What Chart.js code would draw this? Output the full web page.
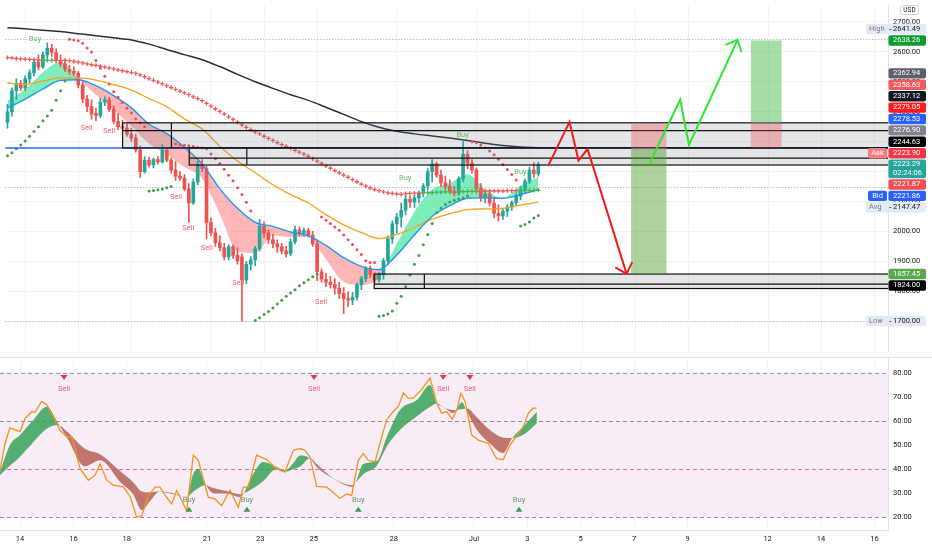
<!DOCTYPE html>
<html>
<head>
<meta charset="utf-8">
<script src="https://cdn.jsdelivr.net/npm/chart.js@4.4.1/dist/chart.umd.min.js"></script>
<style>
  html, body { margin: 0; padding: 0; background: #fff; overflow: hidden; }
  #wrap { position: relative; width: 932px; height: 550px; }
  canvas { position: absolute; left: 0; }
  #price { top: 0; }
  #osc { top: 357px; }
</style>
</head>
<body>
<div id="wrap">
  <canvas id="price" width="932" height="357"></canvas>
  <canvas id="osc" width="932" height="193"></canvas>
</div>
<script>
// x axis is measured in days of June (Jul 1 = 31)
const tickDays = [14, 16, 18, 21, 23, 25, 28, 31, 33, 35, 37, 39, 42, 44, 46];
const tickLabels = ['14', '16', '18', '21', '23', '25', '28', 'Jul', '3', '5', '7', '9', '12', '14', '16'];
const priceTicks = [1700, 1800, 1900, 2000, 2100, 2200, 2300, 2400, 2500, 2600, 2700];
const oscTicks = [20, 30, 40, 50, 60, 70, 80];

// 4h candles, first one Jun 13 08:00
const firstBarDay = 13 + 8 / 24;
const barSpan = 4 / 24;

const opens = [2365,2400,2470,2495,2480,2510,2530,2565,2550,2590,
  2612,2598,2572,2560,2542,2535,2528,2490,2442,2418,
  2395,2388,2432,2440,2408,2368,2350,2345,2325,2312,
  2272,2200,2238,2222,2240,2232,2272,2238,2205,2185,
  2178,2142,2095,2165,2222,2210,2030,1995,1962,1945,
  1915,1948,1920,1915,1838,1890,1905,1942,2018,1995,
  1972,1958,1948,1935,1925,1965,2005,1995,2003,1988,
  1958,1865,1840,1830,1822,1810,1792,1775,1770,1780,
  1822,1842,1875,1855,1838,1856,1902,1975,2025,2048,
  2070,2108,2098,2112,2128,2152,2200,2226,2188,2162,
  2150,2135,2128,2175,2258,2228,2205,2142,2112,2125,
  2095,2060,2052,2068,2082,2096,2118,2140,2168,2205,
  2192];
const highs = [2425,2480,2510,2505,2520,2540,2575,2590,2600,2630,
  2625,2610,2590,2575,2555,2550,2535,2500,2455,2440,
  2412,2445,2450,2448,2420,2395,2372,2360,2345,2325,
  2285,2250,2248,2245,2250,2290,2280,2245,2235,2200,
  2190,2160,2175,2235,2240,2218,2045,2010,1985,1960,
  1955,1955,1945,1925,1900,1915,1950,2040,2032,2005,
  1990,1972,1960,1950,1975,2018,2015,2012,2010,2000,
  1968,1875,1860,1850,1842,1830,1812,1798,1796,1828,
  1850,1882,1885,1862,1862,1910,1985,2035,2060,2095,
  2120,2118,2122,2135,2160,2210,2240,2232,2205,2185,
  2172,2150,2182,2300,2270,2240,2212,2160,2138,2135,
  2112,2090,2075,2090,2102,2125,2150,2175,2215,2230,
  2232];
const lows = [2345,2385,2440,2470,2470,2495,2520,2540,2545,2575,
  2585,2565,2550,2535,2525,2520,2480,2430,2400,2375,
  2370,2380,2420,2400,2360,2340,2335,2318,2300,2265,
  2180,2195,2215,2212,2225,2228,2232,2195,2170,2170,
  2135,2030,2090,2155,2200,1975,1985,1950,1935,1905,
  1905,1910,1890,1700,1825,1870,1885,1935,1980,1960,
  1945,1930,1925,1915,1918,1958,1985,1985,1982,1950,
  1835,1830,1815,1810,1790,1775,1725,1748,1755,1770,
  1805,1832,1845,1828,1830,1840,1895,1960,1995,2015,
  2055,2080,2080,2095,2115,2140,2165,2180,2150,2140,
  2125,2118,2120,2165,2210,2195,2130,2100,2095,2085,
  2045,2035,2040,2050,2070,2088,2105,2130,2160,2180,
  2185];
const closes = [2400,2470,2495,2480,2510,2530,2565,2550,2590,2612,
  2598,2572,2560,2542,2535,2528,2490,2442,2418,2392,
  2388,2432,2440,2408,2368,2350,2345,2325,2312,2272,
  2200,2238,2222,2240,2232,2272,2238,2205,2185,2178,
  2142,2095,2165,2222,2210,2030,1995,1962,1945,1915,
  1948,1920,1902,1838,1890,1905,1942,2018,1995,1972,
  1958,1948,1935,1925,1965,2005,1995,2003,1988,1958,
  1865,1840,1830,1822,1810,1792,1775,1770,1780,1822,
  1842,1875,1855,1838,1856,1902,1975,2025,2048,2070,
  2108,2098,2112,2128,2152,2200,2226,2188,2162,2150,
  2135,2128,2175,2258,2228,2205,2142,2112,2125,2095,
  2060,2052,2068,2082,2096,2118,2140,2168,2205,2192,
  2223.29];

// parabolic SAR dots, one per candle
const sar = [2253,2263,2276,2289,2302,2318,2334,2350,2370,2386,
  2405,2438,2470,2503,2642,2640,2637,2629,2613,2600,
  2571,2545,2519,2493,2467,2448,2431,2412,2396,2376,
  2363,2350,2135,2137,2139,2142,2146,2150,2292,2290,
  2288,2286,2284,2281,2279,2276,2259,2243,2227,2208,
  2188,2169,2146,2123,2097,2068,1702,1711,1722,1732,
  1744,1757,1770,1783,1794,1805,1818,1828,1838,1848,
  1857,2048,2037,2026,2015,2004,1988,1972,1956,1939,
  1923,1902,1896,1896,1716,1719,1724,1734,1760,1783,
  1815,1854,1890,1919,1955,1990,2026,2062,2078,2090,
  2098,2104,2108,2112,2118,2300,2296,2289,2280,2269,
  2256,2241,2224,2207,2190,2172,2018,2023,2031,2045,
  2053];

// cross-marked trend line, one per candle
const crossLine = [2581,2580,2578,2577,2576,2575,2574,2573,2572,2572,
  2572,2572,2572,2572,2571,2568,2566,2563,2560,2557,
  2555,2552,2549,2546,2543,2540,2537,2534,2531,2528,
  2523,2517,2511,2505,2499,2493,2487,2481,2475,2469,
  2463,2457,2450,2444,2437,2428,2419,2410,2401,2392,
  2383,2374,2365,2356,2348,2340,2333,2326,2318,2311,
  2304,2297,2290,2284,2278,2271,2265,2258,2251,2243,
  2235,2227,2219,2211,2203,2196,2188,2181,2173,2166,
  2158,2151,2145,2140,2136,2132,2129,2127,2125,2124,
  2126,2127,2128,2128,2129,2130,2130,2131,2131,2132,
  2132,2132,2133,2133,2134,2134,2134,2135,2135,2135,
  2135,2135,2135,2136,2136,2136,2136,2137,2137,2137,
  2138];

// moving averages sampled every 16 hours
const maDays = [13.33, 14, 14.67, 15.33, 16, 16.67, 17.33, 18, 18.67, 19.33, 20, 20.67, 21.33, 22, 22.67,
  23.33, 24, 24.67, 25.33, 26, 26.67, 27.33, 28, 28.67, 29.33, 30, 30.67, 31.33, 32, 32.67, 33.33];
const ema200 = [2681, 2677, 2672, 2668, 2661, 2654, 2647, 2640, 2626, 2608, 2591, 2574, 2551, 2525, 2500,
  2478, 2457, 2438, 2415, 2391, 2367, 2348, 2335, 2326, 2319, 2312, 2304, 2295, 2287, 2282, 2280];
const ema50 = [2496, 2491, 2503, 2513, 2513, 2506, 2491, 2472, 2444, 2417, 2376, 2342, 2285, 2235, 2196,
  2156, 2123, 2095, 2056, 2022, 1996, 1976, 1990, 2013, 2041, 2059, 2073, 2075, 2077, 2088, 2098];
const ema20 = [2412, 2442, 2476, 2505, 2507, 2487, 2454, 2413, 2358, 2327, 2281, 2225, 2143, 2077, 2030,
  2017, 1998, 1986, 1953, 1912, 1883, 1872, 1921, 1989, 2050, 2086, 2111, 2112, 2111, 2123, 2139];
const ribbonFast = [2436, 2475, 2532, 2566, 2512, 2456, 2407, 2352, 2293, 2258, 2215, 2176, 2059, 1934, 1928,
  1986, 1980, 1980, 1907, 1832, 1821, 1847, 1959, 2066, 2139, 2161, 2190, 2141, 2111, 2153, 2182];

// oscillator
const oscDays = [13.25, 13.44, 13.62, 14.0, 14.19, 14.45, 14.56, 14.81, 15.0, 15.31, 15.5, 15.75, 15.94,
  16.25, 16.56, 16.81, 17.0, 17.25, 17.49, 17.87, 18.12, 18.37, 18.56, 18.81, 19.06, 19.24, 19.49, 19.68,
  19.87, 20.12, 20.24, 20.49, 20.68, 21.05, 21.3, 21.55, 21.87, 21.99, 22.18, 22.36, 22.55, 22.86, 23.24,
  23.61, 23.92, 24.24, 24.49, 24.67, 24.86, 25.11, 25.49, 25.98, 26.24, 26.42, 26.67, 26.86, 27.04, 27.3,
  27.48, 27.73, 27.98, 28.17, 28.36, 28.54, 28.73, 29.04, 29.36, 29.61, 29.79, 29.98, 30.19, 30.36, 30.51,
  30.67, 30.92, 31.17, 31.35, 31.54, 31.85, 32.1, 32.35, 32.6, 32.85, 33.04, 33.22, 33.35];
const oscLine = [39.3, 50.5, 57, 55.4, 61, 63.8, 63.4, 68, 66.6, 60.3, 56, 53.3, 53.3,
  40, 35.2, 37.3, 42, 35.2, 33.1, 32.4, 28.5, 19.8, 20.4, 28.8, 32.3, 32.3, 28.1, 25.3,
  31, 25.3, 22.5, 45.6, 43.5, 28.1, 27.4, 24.6, 31, 28.1, 23.9, 32.3, 32.3, 45.6, 43.8,
  40, 38.6, 47.7, 48.4, 47.7, 44.9, 32.6, 32.3, 27.7, 29.5, 28.8, 43.5, 46.3, 43.5, 42.8,
  50.5, 60.3, 63.8, 65.9, 71.5, 69.4, 69.4, 72.9, 77.8, 67.3, 63.1, 63.8, 60.6, 64.5, 71.5,
  68, 54, 51.9, 51.2, 50.5, 44.2, 43.8, 49.8, 53.6, 57.5, 63.1, 65.2, 65.2];
const bandDays = [13.25, 13.62, 14.0, 14.45, 15.01, 15.42, 15.76, 16.43, 17.0, 17.75, 18.23, 18.57, 18.87,
  19.24, 19.73, 20.25, 20.48, 20.67, 20.93, 21.27, 21.75, 22.24, 22.73, 23.1, 23.62, 23.92, 24.22, 24.49,
  24.86, 25.12, 25.72, 26.47, 26.62, 26.85, 27.37, 27.75, 28.23, 28.87, 29.36, 29.62, 29.84, 30.22, 30.55,
  30.74, 31.12, 31.6, 32.09, 32.43, 32.84, 33.36];
const bandFast = [38.7, 49.8, 54, 59.6, 65.8, 59, 53, 41, 43.5, 34.5, 29.5, 22.7, 26.5,
  30.5, 29.3, 28.4, 37.6, 40, 33.8, 29.7, 29.7, 28.2, 37.8, 42.8, 40.7, 39.2, 42.1, 45.5,
  44.3, 40.6, 36, 32.4, 35.5, 41.9, 43.2, 53.6, 64.4, 68.7, 74.9, 67.1, 65.9, 63.2, 67.7,
  63.7, 56, 50.5, 46.5, 52.7, 57.4, 63.7];
const bandSlow = [37.3, 41.2, 45, 50.4, 56.7, 58.2, 55.5, 48.3, 46, 39, 34.5, 30.5, 30.2,
  30.6, 29.8, 28.3, 30.3, 31.8, 33.1, 31.8, 30.7, 29.4, 31.8, 34.7, 40, 38.7, 39.8, 40.8,
  44.3, 41.8, 36.1, 33.1, 34.8, 37.6, 41.3, 49.4, 56.1, 61.8, 65.8, 67.2, 65.8, 64.4, 64.8,
  65.1, 61.3, 56.1, 53, 52.8, 54, 58.9];
const oscLevels = [80, 60, 40, 20];
const oscSellDays = [15.65, 25.01, 29.85, 30.85];
const oscBuyDays = [20.33, 22.5, 26.67, 32.69];

// signal labels on the price pane
const buySignalDays = [14.37, 28.32, 30.48, 32.66];
const buySignalPrices = [2642, 2177, 2323, 2199];
const sellSignalDays = [16.31, 17.16, 19.68, 20.15, 20.84, 22.03, 25.15];
const sellSignalPrices = [2345, 2334, 2113, 2010, 1945, 1826, 1763];

// drawings
const zoneStart = [17.67, 20.18, 27.15];
const zoneSplit = [19.51, 22.35, 29.04];
const zoneTop = [2362.94, 2279.05, 1857.45];
const zoneBottom = [2279.05, 2221.87, 1809];
const zoneMid = [2337.12, 2244.63, 1824.00];
const blueLevel = 2278.53;
const redLevel = 2221.87;
const shortSpan = [36.83, 38.16];
const shortLevels = [2276.90, 2358.63, 1857.45]; // entry, stop, target
const longSpan = [41.34, 42.5];
const longLevels = [2362.94, 2279.05, 2638.26];
const redPathDays = [33.70, 34.51, 34.85, 35.19, 36.66];
const redPathPrices = [2218, 2366, 2237, 2275, 1858];
const greenPathDays = [37.53, 38.68, 39.01, 40.84];
const greenPathPrices = [2228, 2440, 2289, 2640];

const lastPrice = 2223.29, lastCountdown = '02:24:06';
const askPrice = 2223.90, bidPrice = 2221.86;
const highPrice = 2641.49, lowPrice = 1700.00, avgPrice = 2147.47;

const xMin = 13.2509, xMax = 46.5093;
const upColor = '#26a69a', downColor = '#ef5350';
const FONT = 'Roboto, "Noto Sans", sans-serif';
Chart.defaults.font.family = FONT;
Chart.defaults.font.size = 7.5;

const candleDays = closes.map((_, k) => firstBarDay + k * barSpan);
const pts = (xs, ys) => xs.map((x, i) => ({ x: x, y: ys[i] }));
const candleColors = closes.map((c, k) => c >= opens[k] ? upColor : downColor);
const sarColors = sar.map((v, k) => v > closes[k] ? '#f0505a' : '#43a047');
const crossColors = crossLine.map((v, k) => closes[k] > v ? '#4caf50' : '#f05a5a');

function xScale(showLabels) {
  return {
    type: 'linear', min: xMin, max: xMax, offset: false,
    afterBuildTicks: s => { s.ticks = tickDays.map(v => ({ value: v })); },
    afterFit: s => {
      s.paddingLeft = 0; s.paddingRight = 0;
      s.height = showLabels ? 20 : 0;
    },
    grid: { color: '#f0f3fa', drawTicks: false, offset: false },
    border: { display: showLabels, color: '#e0e3eb' },
    ticks: {
      display: showLabels, color: '#131722', padding: 5, maxRotation: 0, autoSkip: false,
      callback: (v, i) => tickLabels[i]
    }
  };
}

function yScale(min, max, ticks, digits) {
  return {
    position: 'right', min: min, max: max,
    afterBuildTicks: s => { s.ticks = ticks.map(v => ({ value: v })); },
    afterFit: s => { s.width = 44; s.paddingTop = 0; s.paddingBottom = 0; },
    grid: { color: '#f0f3fa', drawTicks: false },
    border: { color: '#e0e3eb' },
    ticks: { color: '#131722', padding: 5, callback: v => v.toFixed(digits) }
  };
}

function hLine(ctx, x1, x2, y) {
  ctx.beginPath(); ctx.moveTo(x1, y); ctx.lineTo(x2, y); ctx.stroke();
}

function drawArrow(ctx, X, Y, days, prices, color) {
  ctx.strokeStyle = color;
  ctx.lineWidth = 2;
  ctx.lineJoin = 'miter';
  ctx.beginPath();
  days.forEach((d, i) => {
    if (i === 0) ctx.moveTo(X(d), Y(prices[i]));
    else ctx.lineTo(X(d), Y(prices[i]));
  });
  ctx.stroke();
  const n = days.length;
  const ex = X(days[n - 1]), ey = Y(prices[n - 1]);
  const ang = Math.atan2(Y(prices[n - 2]) - ey, X(days[n - 2]) - ex);
  ctx.beginPath();
  ctx.moveTo(ex + 13 * Math.cos(ang - 0.75), ey + 13 * Math.sin(ang - 0.75));
  ctx.lineTo(ex, ey);
  ctx.lineTo(ex + 13 * Math.cos(ang + 0.75), ey + 13 * Math.sin(ang + 0.75));
  ctx.stroke();
}

function box(ctx, x, y, w, h, color) {
  ctx.fillStyle = color;
  ctx.beginPath();
  ctx.roundRect(x, y, w, h, 2);
  ctx.fill();
}

const priceOverlay = {
  id: 'priceOverlay',
  beforeDatasetsDraw(chart) {
    const { ctx, chartArea: a, scales: { y } } = chart;
    ctx.save();
    ctx.setLineDash([1, 2]);
    ctx.strokeStyle = '#a3a6af';
    ctx.lineWidth = 1;
    [highPrice, lowPrice, avgPrice].forEach(p => hLine(ctx, a.left, a.right, Math.round(y.getPixelForValue(p)) + 0.5));
    ctx.restore();
  },
  afterDatasetsDraw(chart) {
    const { ctx, chartArea: a, scales: { x, y } } = chart;
    const X = d => x.getPixelForValue(d);
    const Y = p => y.getPixelForValue(p);
    ctx.save();
    ctx.beginPath(); ctx.rect(a.left, a.top, a.right - a.left, a.bottom - a.top); ctx.clip();

    ctx.strokeStyle = '#2962ff';
    ctx.lineWidth = 1.5;
    hLine(ctx, a.left, a.right, Y(blueLevel));

    zoneStart.forEach((d, i) => {
      const x1 = X(d), y1 = Y(zoneTop[i]), y2 = Y(zoneBottom[i]);
      ctx.fillStyle = 'rgba(120, 123, 134, 0.2)';
      ctx.fillRect(x1, y1, a.right - x1, y2 - y1);
      ctx.strokeStyle = '#111';
      ctx.lineWidth = 1.2;
      ctx.strokeRect(x1, y1, a.right - x1 + 2, y2 - y1);
      hLine(ctx, x1, a.right, Y(zoneMid[i]));
      ctx.beginPath(); ctx.moveTo(X(zoneSplit[i]), y1); ctx.lineTo(X(zoneSplit[i]), y2); ctx.stroke();
    });

    // short and long position tools
    [[shortSpan, shortLevels, 'rgba(76, 155, 40, 0.45)'], [longSpan, longLevels, 'rgba(60, 180, 60, 0.45)']].forEach(([span, lv, gain]) => {
      const x1 = X(span[0]), w = X(span[1]) - x1;
      const e = Y(lv[0]), s = Y(lv[1]), t = Y(lv[2]);
      ctx.fillStyle = 'rgba(235, 70, 70, 0.33)';
      ctx.fillRect(x1, Math.min(e, s), w, Math.abs(s - e));
      ctx.fillStyle = gain;
      ctx.fillRect(x1, Math.min(e, t), w, Math.abs(t - e));
      ctx.strokeStyle = 'rgba(120, 123, 134, 0.8)';
      ctx.lineWidth = 1;
      hLine(ctx, x1, x1 + w, e);
    });

    drawArrow(ctx, X, Y, redPathDays, redPathPrices, '#f21b1b');
    drawArrow(ctx, X, Y, greenPathDays, greenPathPrices, '#2ee62e');

    ctx.font = '7.5px ' + FONT;
    ctx.textAlign = 'center';
    ctx.textBaseline = 'middle';
    ctx.fillStyle = '#5cbf6a';
    buySignalDays.forEach((d, i) => ctx.fillText('Buy', X(d), Y(buySignalPrices[i])));
    ctx.fillStyle = '#f2606c';
    sellSignalDays.forEach((d, i) => ctx.fillText('Sell', X(d), Y(sellSignalPrices[i])));
    ctx.restore();
  },
  afterDraw(chart) {
    const { ctx, chartArea: a, scales: { y } } = chart;
    const R = a.right;
    const H = 11.4;
    const items = [
      { price: highPrice, tag: 'High', light: true },
      { price: lowPrice, tag: 'Low', light: true },
      { price: avgPrice, tag: 'Avg', light: true },
      { price: longLevels[2], bg: '#0c9a31' },
      { price: longLevels[0], bg: '#5d606b' },
      { price: shortLevels[1], bg: '#f05a5f' },
      { price: zoneMid[0], bg: '#131722' },
      { price: longLevels[1], bg: '#ff1a1a' },
      { price: blueLevel, bg: '#2962ff' },
      { price: shortLevels[0], bg: '#80838d' },
      { price: zoneMid[1], bg: '#000000' },
      { price: askPrice, bg: '#f23645', tag: 'Ask', tagBg: '#f77c80' },
      { price: lastPrice, bg: '#26a69a', second: lastCountdown },
      { price: redLevel, bg: '#f04f55' },
      { price: bidPrice, bg: '#2962ff', tag: 'Bid', tagBg: '#2962ff' },
      { price: shortLevels[2], bg: '#5aa84b' },
      { price: zoneMid[2], bg: '#000000' }
    ];
    // stack labels around the last price label
    const anchor = items.find(it => it.second);
    anchor.h = H + 8.5;
    anchor.top = y.getPixelForValue(anchor.price) - H / 2;
    let prev = anchor.top;
    items.filter(it => it.price > anchor.price).sort((p, q) => p.price - q.price).forEach(it => {
      it.h = H;
      it.top = Math.min(y.getPixelForValue(it.price) - H / 2, prev - H);
      prev = it.top;
    });
    prev = anchor.top + anchor.h;
    items.filter(it => it.price < anchor.price).sort((p, q) => q.price - p.price).forEach(it => {
      it.h = H;
      it.top = Math.max(y.getPixelForValue(it.price) - H / 2, prev);
      prev = it.top + H;
    });

    ctx.save();
    ctx.font = '7.5px ' + FONT;
    ctx.textBaseline = 'middle';
    items.forEach(it => {
      const cy = it.top + H / 2;
      if (it.light) {
        box(ctx, R - 22, it.top + 0.5, 60, it.h - 1, '#e3eaf6');
        ctx.textAlign = 'left';
        ctx.fillStyle = '#787b86';
        ctx.fillText(it.tag, R - 19, cy);
        ctx.fillRect(R + 1, Math.round(cy), 2.5, 1);
        ctx.fillStyle = '#131722';
        ctx.fillText(it.price.toFixed(2), R + 5, cy);
        return;
      }
      box(ctx, R + 0.5, it.top + 0.5, 37.5, it.h - 1, it.bg);
      ctx.textAlign = 'left';
      ctx.fillStyle = '#ffffff';
      ctx.fillText(it.price.toFixed(2), R + 5, cy);
      if (it.second) ctx.fillText(it.second, R + 5, cy + 9);
      if (it.tag) {
        box(ctx, R - 20, it.top + 0.5, 19, it.h - 1, it.tagBg);
        ctx.textAlign = 'center';
        ctx.fillStyle = '#ffffff';
        ctx.fillText(it.tag, R - 10.5, cy);
      }
    });
    // currency badge
    ctx.fillStyle = '#ffffff';
    ctx.strokeStyle = '#d1d4dc';
    ctx.lineWidth = 1;
    ctx.beginPath(); ctx.roundRect(R + 12.5, 5.5, 18, 9, 2); ctx.fill(); ctx.stroke();
    ctx.fillStyle = '#131722';
    ctx.font = '6.5px ' + FONT;
    ctx.textAlign = 'center';
    ctx.fillText('USD', R + 21.5, 10.2);
    ctx.restore();
  }
};

new Chart(document.getElementById('price'), {
  type: 'bar',
  data: {
    datasets: [
      {
        type: 'line', data: pts(maDays, ribbonFast), borderWidth: 0, borderColor: 'transparent',
        pointRadius: 0, cubicInterpolationMode: 'monotone',
        fill: { target: 1, above: 'rgba(0, 220, 120, 0.5)', below: 'rgba(255, 82, 82, 0.42)' }, order: 10
      },
      { type: 'line', data: pts(maDays, ema20), borderColor: '#2196f3', borderWidth: 1.4, pointRadius: 0, cubicInterpolationMode: 'monotone', order: 3 },
      { type: 'line', data: pts(maDays, ema50), borderColor: '#f9a11b', borderWidth: 1.3, pointRadius: 0, cubicInterpolationMode: 'monotone', order: 3 },
      { type: 'line', data: pts(maDays, ema200), borderColor: '#2a2e39', borderWidth: 1.5, pointRadius: 0, cubicInterpolationMode: 'monotone', order: 3 },
      {
        type: 'bar', data: candleDays.map((d, k) => ({ x: d, y: [lows[k], highs[k]] })),
        backgroundColor: candleColors, barThickness: 1, grouped: false, order: 6
      },
      {
        type: 'bar', data: candleDays.map((d, k) => ({ x: d, y: [opens[k], closes[k]] })),
        backgroundColor: candleColors, barThickness: 3, minBarLength: 1, grouped: false, order: 5
      },
      {
        type: 'line', data: pts(candleDays, sar), showLine: false, pointRadius: 1.5,
        pointBorderWidth: 0, pointBackgroundColor: sarColors, order: 1
      },
      {
        type: 'line', data: pts(candleDays, crossLine), showLine: false, pointStyle: 'cross',
        pointRadius: 2.2, pointBorderWidth: 1.3, pointBorderColor: crossColors, order: 1
      }
    ]
  },
  options: {
    responsive: false, animation: false, events: [],
    layout: { padding: 0 },
    plugins: { legend: { display: false }, tooltip: { enabled: false } },
    scales: { x: xScale(false), y: yScale(1597.8, 2755.8, priceTicks, 2) }
  },
  plugins: [priceOverlay]
});

const oscOverlay = {
  id: 'oscOverlay',
  beforeDatasetsDraw(chart) {
    const { ctx, chartArea: a, scales: { y } } = chart;
    ctx.save();
    const t = y.getPixelForValue(80), b = y.getPixelForValue(20);
    ctx.fillStyle = '#f8edf7';
    ctx.fillRect(a.left, t, a.right - a.left, b - t);
    const colors = ['#86a0a6', '#8c8f99', '#ef6a90', '#ef6a90'];
    ctx.setLineDash([4, 3]);
    ctx.lineWidth = 1;
    oscLevels.forEach((v, i) => {
      ctx.strokeStyle = colors[i];
      hLine(ctx, a.left, a.right, Math.round(y.getPixelForValue(v)) + 0.5);
    });
    ctx.restore();
  },
  afterDatasetsDraw(chart) {
    const { ctx, scales: { x, y } } = chart;
    ctx.save();
    ctx.font = '7.5px ' + FONT;
    ctx.textAlign = 'center';
    ctx.textBaseline = 'middle';
    oscSellDays.forEach(d => {
      const px = x.getPixelForValue(d), py = y.getPixelForValue(78);
      ctx.fillStyle = '#f23645';
      ctx.beginPath(); ctx.moveTo(px - 3.5, py - 2.5); ctx.lineTo(px + 3.5, py - 2.5); ctx.lineTo(px, py + 2.5); ctx.fill();
      ctx.fillStyle = '#ee5a78';
      ctx.fillText('Sell', px, y.getPixelForValue(73.2));
    });
    oscBuyDays.forEach(d => {
      const px = x.getPixelForValue(d), py = y.getPixelForValue(23.1);
      ctx.fillStyle = '#3d9a4e';
      ctx.beginPath(); ctx.moveTo(px - 3.5, py + 2.5); ctx.lineTo(px + 3.5, py + 2.5); ctx.lineTo(px, py - 2.5); ctx.fill();
      ctx.fillStyle = '#5f9a6c';
      ctx.fillText('Buy', px, y.getPixelForValue(26.9));
    });
    ctx.restore();
  },
  afterDraw(chart) {
    const { ctx } = chart;
    ctx.save();
    ctx.strokeStyle = '#e0e3eb';
    ctx.lineWidth = 1;
    hLine(ctx, 0, chart.width, 0.5);
    ctx.restore();
  }
};

new Chart(document.getElementById('osc'), {
  type: 'line',
  data: {
    datasets: [
      {
        data: pts(bandDays, bandFast), borderWidth: 0, borderColor: 'transparent', pointRadius: 0,
        cubicInterpolationMode: 'monotone',
        fill: { target: 1, above: 'rgba(46, 160, 80, 0.82)', below: 'rgba(176, 84, 72, 0.78)' }, order: 3
      },
      { data: pts(bandDays, bandSlow), borderWidth: 0, borderColor: 'transparent', pointRadius: 0, cubicInterpolationMode: 'monotone', order: 3 },
      { data: pts(oscDays, oscLine), borderColor: '#f7931a', borderWidth: 1.3, pointRadius: 0, order: 1 }
    ]
  },
  options: {
    responsive: false, animation: false, events: [],
    layout: { padding: { top: 1 } },
    plugins: { legend: { display: false }, tooltip: { enabled: false } },
    scales: { x: xScale(true), y: yScale(14.46, 86.1, oscTicks, 2) }
  },
  plugins: [oscOverlay]
});
</script>
</body>
</html>
